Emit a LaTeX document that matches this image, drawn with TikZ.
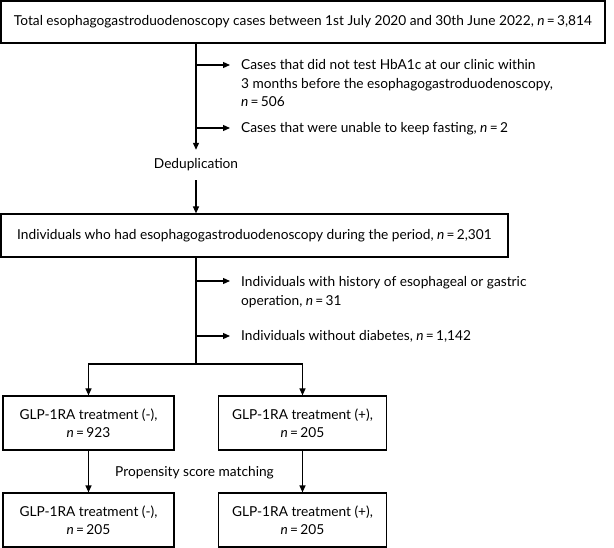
\documentclass[tikz,border=0pt]{standalone}
\usepackage{fontspec}
\setmainfont{Lato}
\usetikzlibrary{arrows.meta}
\begin{document}
\begin{tikzpicture}[x=1pt,y=-1pt,
  every node/.style={font=\fontsize{13.7}{18.5}\selectfont},
  box/.style={draw, line width=1.2pt, inner sep=0pt, align=center},
  note/.style={anchor=base west, align=left, inner xsep=11pt, inner ysep=0pt},
  ln/.style={line width=1.2pt},
  arr/.style={line width=1.2pt, -{Triangle[length=7pt,width=6pt]}},
]
\useasboundingbox (0,0) rectangle (614,548);
\node[box, minimum width=604pt, minimum height=42pt] (top) at (303,22)
  {Total esophagogastroduodenoscopy cases between 1st July 2020 and 30th June 2022, \textit{n}\,=\,3,814};
\node[note] (ex1) at (230,107) {Cases that did not test HbA1c at our clinic within\\3 months before the esophagogastroduodenoscopy,\\\textit{n}\,=\,506};
\node[note] (ex2) at (230,133) {Cases that were unable to keep fasting, \textit{n}\,=\,2};
\node[minimum height=30pt, inner sep=0pt] (dedup) at (196,165) {Deduplication};
\node[box, minimum width=507pt, minimum height=43pt] (mid) at (254.5,235.5)
  {Individuals who had esophagogastroduodenoscopy during the period, \textit{n}\,=\,2,301};
\node[note] (ex3) at (230,305.5) {Individuals with history of esophageal or gastric\\operation, \textit{n}\,=\,31};
\node[note] (ex4) at (230,341) {Individuals without diabetes, \textit{n}\,=\,1,142};
\coordinate (split) at (196,364);
\node[box, minimum width=171pt, minimum height=54pt] (l1) at (88.5,423) {GLP-1RA treatment (-),\\\textit{n}\,=\,923};
\node[box, minimum width=168pt, minimum height=54pt] (r1) at (302.5,423) {GLP-1RA treatment (+),\\\textit{n}\,=\,205};
\node (psm) at (194.5,473) {Propensity score matching};
\node[box, minimum width=171pt, minimum height=54pt] (l2) at (88.5,520) {GLP-1RA treatment (-),\\\textit{n}\,=\,205};
\node[box, minimum width=168pt, minimum height=54pt] (r2) at (302.5,520) {GLP-1RA treatment (+),\\\textit{n}\,=\,205};
\coordinate (b1) at (196,65);
\coordinate (b2) at (196,128);
\coordinate (b3) at (196,281);
\coordinate (b4) at (196,336);
\draw[arr] (top.south -| dedup) -- (dedup.north);
\draw[arr] (b1) -- (b1 -| ex1.west);
\draw[arr] (b2) -- (b2 -| ex2.west);
\draw[arr] (dedup.south) -- (mid.north -| dedup);
\draw[ln] (mid.south -| dedup) -- (split);
\draw[arr] (b3) -- (b3 -| ex3.west);
\draw[arr] (b4) -- (b4 -| ex4.west);
\draw[arr] (split) -| (l1.north);
\draw[arr] (split) -| (r1.north);
\draw[arr] (l1) -- (l2);
\draw[arr] (r1) -- (r2);
\end{tikzpicture}
\end{document}
